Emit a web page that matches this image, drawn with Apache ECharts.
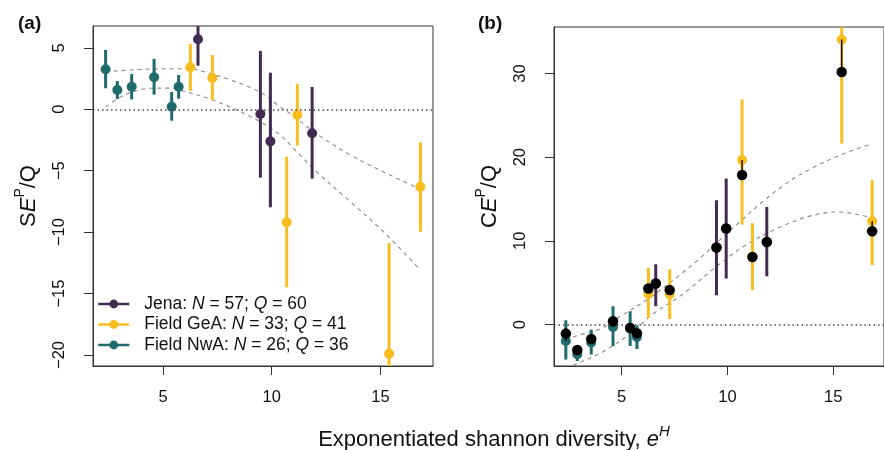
<!DOCTYPE html>
<html>
<head>
<meta charset="utf-8">
<script src="https://cdn.jsdelivr.net/npm/echarts@6/dist/echarts.min.js"></script>
<style>
html,body{margin:0;padding:0;background:#fff;}
#chart{width:884px;height:450px;}
</style>
</head>
<body>
<div id="chart"></div>
<script>
// axis ticks
var xTicks = [5, 10, 15];
var seTicks = [-20, -15, -10, -5, 0, 5];
var ceTicks = [0, 10, 20, 30];

// legend
var legendNames = ["Jena", "Field GeA", "Field NwA"];
var legendN = [57, 33, 26];
var legendQ = [60, 41, 36];

// Jena
var jenaX = [6.61, 9.48, 9.94, 11.86];
var jenaSE = [5.70, -0.38, -2.61, -1.95];
var jenaSELo = [3.55, -5.57, -7.98, -5.65];
var jenaSEHi = [7.85, 4.75, 2.98, 1.82];
var jenaCERaw = [4.90, 9.20, 11.47, 9.87];
var jenaCE = [4.90, 9.20, 11.47, 9.87];
var jenaCELo = [2.19, 3.50, 5.50, 5.77];
var jenaCEHi = [7.20, 14.85, 17.44, 14.05];

// Field GeA
var geaX = [6.26, 7.27, 10.69, 11.18, 15.40, 16.84];
var geaSE = [3.42, 2.55, -9.20, -0.44, -19.90, -6.30];
var geaSELo = [1.51, 0.76, -14.50, -2.96, -28.90, -9.97];
var geaSEHi = [5.32, 4.42, -3.86, 2.06, -10.90, -2.69];
var geaCERaw = [3.70, 3.62, 19.67, 8.08, 34.05, 12.34];
var geaCE = [4.30, 4.13, 17.87, 8.08, 30.18, 11.15];
var geaCELo = [0.79, 0.67, 11.95, 4.13, 21.63, 7.08];
var geaCEHi = [6.76, 6.61, 26.90, 12.10, 46.50, 17.24];

// Field NwA
var nwaX = [2.36, 2.90, 3.56, 4.59, 5.40, 5.72];
var nwaSE = [3.26, 1.57, 1.84, 2.61, 0.21, 1.84];
var nwaSELo = [1.71, 0.84, 0.81, 1.19, -0.93, 0.86];
var nwaSEHi = [4.83, 2.30, 2.87, 4.10, 1.41, 2.79];
var nwaCERaw = [-1.96, -3.55, -2.15, -0.29, -0.40, -1.48];
var nwaCE = [-1.08, -3.03, -1.72, 0.39, -0.41, -1.04];
var nwaCELo = [-4.18, -4.35, -3.58, -2.56, -2.56, -2.92];
var nwaCEHi = [0.51, -2.47, -0.60, 2.19, 1.59, -0.08];

// dashed curves
var seUpperX = [2.36, 3.5, 4.5, 5.5, 6.24, 7.0, 8.08, 9.46, 10.38, 10.84, 12.07, 13.6, 15.14, 16.84];
var seUpperY = [3.05, 3.2, 3.28, 3.3, 3.3, 3.0, 2.4, 1.4, 0.21, -0.33, -2.0, -3.7, -5.1, -6.5];
var seLowerX = [2.36, 3.0, 3.5, 4.4, 5.3, 6.1, 7.3, 8.5, 9.46, 10.38, 11.15, 12.07, 13.6, 15.14, 16.84];
var seLowerY = [0.2, 0.95, 1.35, 1.71, 1.72, 1.4, 0.75, -0.15, -1.0, -2.09, -3.45, -5.1, -7.5, -9.97, -13.1];
var ceUpperX = [2.37, 2.72, 4.10, 4.86, 6.39, 7.92, 8.68, 9.45, 10.67, 11.74, 12.8, 13.85, 15.38, 16.84];
var ceUpperY = [-1.95, -1.48, -0.4, 0.85, 3.3, 6.28, 7.88, 9.68, 12.46, 14.85, 16.9, 18.5, 20.3, 21.6];
var ceLowerX = [2.37, 2.72, 4.10, 5.62, 6.39, 7.92, 9.45, 10.98, 12.5, 14.04, 15.26, 16.33, 16.84];
var ceLowerY = [-5.4, -4.86, -3.27, -0.68, 1.11, 3.7, 6.88, 9.68, 11.66, 13.06, 13.45, 13.06, 12.7];

var colors = {"Jena": "#432A53", "Field GeA": "#F9BD1E", "Field NwA": "#1F6A6D"};
var fontName = "Liberation Sans, Arial, sans-serif";

var groups = [
	{name: "Jena", x: jenaX, se: jenaSE, seLo: jenaSELo, seHi: jenaSEHi, ceRaw: jenaCERaw, ce: jenaCE, ceLo: jenaCELo, ceHi: jenaCEHi},
	{name: "Field GeA", x: geaX, se: geaSE, seLo: geaSELo, seHi: geaSEHi, ceRaw: geaCERaw, ce: geaCE, ceLo: geaCELo, ceHi: geaCEHi},
	{name: "Field NwA", x: nwaX, se: nwaSE, seLo: nwaSELo, seHi: nwaSEHi, ceRaw: nwaCERaw, ce: nwaCE, ceLo: nwaCELo, ceHi: nwaCEHi}
];

function pairs(xs, ys){
	var out = [];
	for(var i=0;i<xs.length;i++) out.push([xs[i], ys[i]]);
	return out;
}
function triples(xs, a, b){
	var out = [];
	for(var i=0;i<xs.length;i++) out.push([xs[i], a[i], b[i]]);
	return out;
}
//竖线 (误差线 / 连线)
function segRender(width){
	return function(params, api){
		var p1 = api.coord([api.value(0), api.value(1)]);
		var p2 = api.coord([api.value(0), api.value(2)]);
		return {
			type: "line",
			shape: {x1: p1[0], y1: p1[1], x2: p2[0], y2: p2[1]},
			style: {stroke: api.visual("color"), lineWidth: width}
		};
	};
}
function curve(xs, ys, idx){
	return {
		type: "line", xAxisIndex: idx, yAxisIndex: idx, z: 1,
		data: pairs(xs, ys), smooth: 0.35, symbol: "none", clip: true,
		lineStyle: {color: "#8a8a8a", width: 1.1, type: [4, 4]},
		silent: true
	};
}
function zeroLine(idx){
	return {
		type: "line", xAxisIndex: idx, yAxisIndex: idx, data: [], silent: true,
		markLine: {
			symbol: "none", silent: true, label: {show: false},
			lineStyle: {color: "#444", width: 1.5, type: [1.5, 3]},
			data: [{yAxis: 0}]
		}
	};
}
function minusFmt(v){
	return String(v).replace("-", "\u2212");
}

var series = [];
series.push(curve(seUpperX, seUpperY, 0), curve(seLowerX, seLowerY, 0), zeroLine(0));
series.push(curve(ceUpperX, ceUpperY, 1), curve(ceLowerX, ceLowerY, 1), zeroLine(1));

for(var i=0;i<groups.length;i++){
	var g = groups[i];
	var c = colors[g.name];
	// (a)
	series.push({
		type: "custom", name: g.name + "_barA", xAxisIndex: 0, yAxisIndex: 0, z: 2, clip: true,
		itemStyle: {color: c}, renderItem: segRender(3), data: triples(g.x, g.seLo, g.seHi)
	});
	series.push({
		type: "line", name: g.name, xAxisIndex: 0, yAxisIndex: 0, z: 3,
		data: pairs(g.x, g.se), symbol: "circle", symbolSize: 10, showAllSymbol: true,
		itemStyle: {color: c}, lineStyle: {color: c, opacity: 0, width: 3}
	});
	// (b)
	series.push({
		type: "custom", name: g.name + "_barB", xAxisIndex: 1, yAxisIndex: 1, z: 2, clip: true,
		itemStyle: {color: c}, renderItem: segRender(3), data: triples(g.x, g.ceLo, g.ceHi)
	});
	series.push({
		type: "scatter", name: g.name + "_rawB", xAxisIndex: 1, yAxisIndex: 1, z: 3,
		data: pairs(g.x, g.ceRaw), symbolSize: 10, itemStyle: {color: c, opacity: 1}
	});
	series.push({
		type: "custom", name: g.name + "_linkB", xAxisIndex: 1, yAxisIndex: 1, z: 4, clip: true,
		itemStyle: {color: "#000"}, renderItem: segRender(1.3), data: triples(g.x, g.ceRaw, g.ce)
	});
}
for(var i=0;i<groups.length;i++){
	series.push({
		type: "scatter", name: groups[i].name + "_ceB", xAxisIndex: 1, yAxisIndex: 1, z: 5,
		data: pairs(groups[i].x, groups[i].ce), symbolSize: 10.5, itemStyle: {color: "#000", opacity: 1}
	});
}

function xAxisOpt(idx, min, max){
	return {
		type: "value", gridIndex: idx, min: min, max: max,
		axisLine: {show: true, onZero: false, lineStyle: {color: "#333", width: 1}},
		axisTick: {show: true, length: 9, customValues: xTicks, lineStyle: {color: "#333"}},
		axisLabel: {customValues: xTicks, margin: 23, color: "#111", fontSize: 16.5, fontFamily: fontName},
		splitLine: {show: false}
	};
}
function yAxisOpt(idx, min, max, ticks, letter){
	return {
		type: "value", gridIndex: idx, min: min, max: max,
		axisLine: {show: true, onZero: false, lineStyle: {color: "#333", width: 1}},
		axisTick: {show: true, length: 9, customValues: ticks, lineStyle: {color: "#333"}},
		axisLabel: {customValues: ticks, rotate: 90, margin: 25, color: "#111", fontSize: 16.5, fontFamily: fontName, formatter: minusFmt},
		splitLine: {show: false},
		name: "{n|" + letter + "}{i|E}{s|P}{n|/Q}",
		nameLocation: "middle", nameRotate: 90, nameGap: 48,
		nameTextStyle: {
			rich: {
				n: {fontSize: 22, lineHeight: 32, fontFamily: fontName, color: "#111"},
				i: {fontSize: 22, lineHeight: 32, fontStyle: "italic", fontFamily: fontName, color: "#111"},
				s: {fontSize: 14, lineHeight: 14, verticalAlign: "top", fontFamily: fontName, color: "#111"}
			}
		}
	};
}

var chart = echarts.init(document.getElementById("chart"));
chart.setOption({
	animation: false,
	backgroundColor: "#fff",
	title: [
		{text: "(a)", left: 13, top: 9, textStyle: {fontSize: 19, fontWeight: "bold", color: "#111", fontFamily: fontName}},
		{text: "(b)", left: 473, top: 9, textStyle: {fontSize: 19, fontWeight: "bold", color: "#111", fontFamily: fontName}},
		{
			text: "{n|Exponentiated shannon diversity, }{i|e}{s|H}",
			left: 489, top: 419, textAlign: "center",
			textStyle: {
				fontWeight: "normal",
				rich: {
					n: {fontSize: 22, lineHeight: 32, fontWeight: "normal", fontFamily: fontName, color: "#111"},
					i: {fontSize: 22, lineHeight: 32, fontWeight: "normal", fontStyle: "italic", fontFamily: fontName, color: "#111"},
					s: {fontSize: 15, lineHeight: 15, fontWeight: "normal", verticalAlign: "top", fontStyle: "italic", fontFamily: fontName, color: "#111"}
				}
			}
		}
	],
	legend: {
		data: legendNames, orient: "vertical", left: 97, top: 295, padding: 0,
		itemWidth: 31, itemHeight: 11, itemGap: 2.5, selectedMode: false,
		lineStyle: {opacity: 1, width: 2.5},
		formatter: function(name){
			var k = legendNames.indexOf(name);
			return "{sp| }{t|" + name + ": }{i|N}{t| = " + legendN[k] + "; }{i|Q}{t| = " + legendQ[k] + "}";
		},
		textStyle: {
			lineHeight: 18,
			rich: {
				sp: {width: 10, fontSize: 17.5},
				t: {fontSize: 17.5, fontFamily: fontName, color: "#111"},
				i: {fontSize: 17.5, fontFamily: fontName, fontStyle: "italic", color: "#111"}
			}
		}
	},
	grid: [
		{left: 93, top: 26, width: 340, height: 340, show: true, borderColor: "#333", borderWidth: 1, containLabel: false},
		{left: 554, top: 27, width: 340, height: 339, show: true, borderColor: "#333", borderWidth: 1, containLabel: false}
	],
	xAxis: [xAxisOpt(0, 1.78, 17.42), xAxisOpt(1, 1.80, 17.40)],
	yAxis: [yAxisOpt(0, -20.9, 6.78, seTicks, "S"), yAxisOpt(1, -4.95, 35.55, ceTicks, "C")],
	series: series
});
</script>
</body>
</html>
